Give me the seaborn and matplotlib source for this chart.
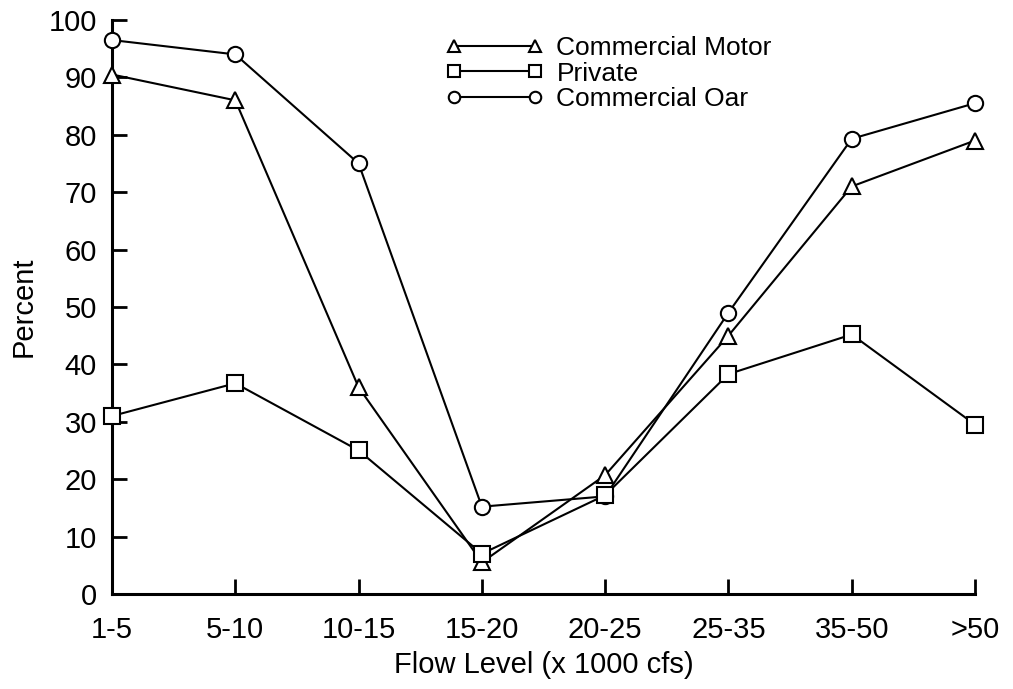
import pandas as pd
import matplotlib
matplotlib.use('Agg')
import matplotlib.pyplot as plt
import seaborn as sns

# Data
flow_levels = ['1-5', '5-10', '10-15', '15-20', '20-25', '25-35', '35-50', '>50']
commercial_motor = [90.5, 86, 36, 5.5, 20.7, 45, 71, 79]
private = [31, 36.7, 25, 7, 17.2, 38.3, 45.2, 29.5]
commercial_oar = [96.5, 94, 75, 15.2, 17, 49, 79.3, 85.5]

# name, values, marker, zorder (squares sit on top in the original)
series = [
    ('Commercial Motor', commercial_motor, '^', 3),
    ('Private', private, 's', 5),
    ('Commercial Oar', commercial_oar, 'o', 4),
]

sns.set_style('ticks')
plt.rcParams['font.family'] = ['Liberation Sans', 'DejaVu Sans']
plt.rcParams['text.color'] = 'black'
plt.rcParams['axes.labelcolor'] = 'black'

fig = plt.figure(figsize=(10.13, 6.89), dpi=100)
ax = fig.add_axes([0.1106, 0.138, 0.8519, 0.833])

x_pos = list(range(len(flow_levels)))
for name, values, marker, z in series:
    df = pd.DataFrame({'x': x_pos, 'y': values})
    sns.lineplot(data=df, x='x', y='y', ax=ax, color='black', linewidth=1.5,
                 marker=marker, markersize=11, markerfacecolor='white',
                 markeredgecolor='black', markeredgewidth=1.5,
                 label=name, clip_on=False, zorder=z)

ax.set_xlim(0, len(flow_levels) - 1)
ax.set_ylim(0, 100)
ax.set_xticks(x_pos)
ax.set_xticklabels(flow_levels)
ax.set_yticks(range(0, 101, 10))

ax.tick_params(axis='both', direction='in', length=11, width=2, labelsize=21,
               colors='black')
ax.tick_params(axis='y', pad=11)
ax.tick_params(axis='x', pad=16)

for side in ['top', 'right']:
    ax.spines[side].set_visible(False)
for side in ['left', 'bottom']:
    ax.spines[side].set_linewidth(2.2)
    ax.spines[side].set_color('black')

ax.set_xlabel('Flow Level (x 1000 cfs)', fontsize=21, labelpad=5, color='black')
ax.set_ylabel('Percent', fontsize=21, labelpad=8, color='black')

leg = ax.legend(loc='upper left', bbox_to_anchor=(0.359, 1.013), frameon=False,
                numpoints=2, handlelength=3.7, fontsize=19, markerscale=0.75,
                labelspacing=0.05, handletextpad=0.5)
for t in leg.get_texts():
    t.set_color('black')

fig.savefig('out.png', dpi=100)
